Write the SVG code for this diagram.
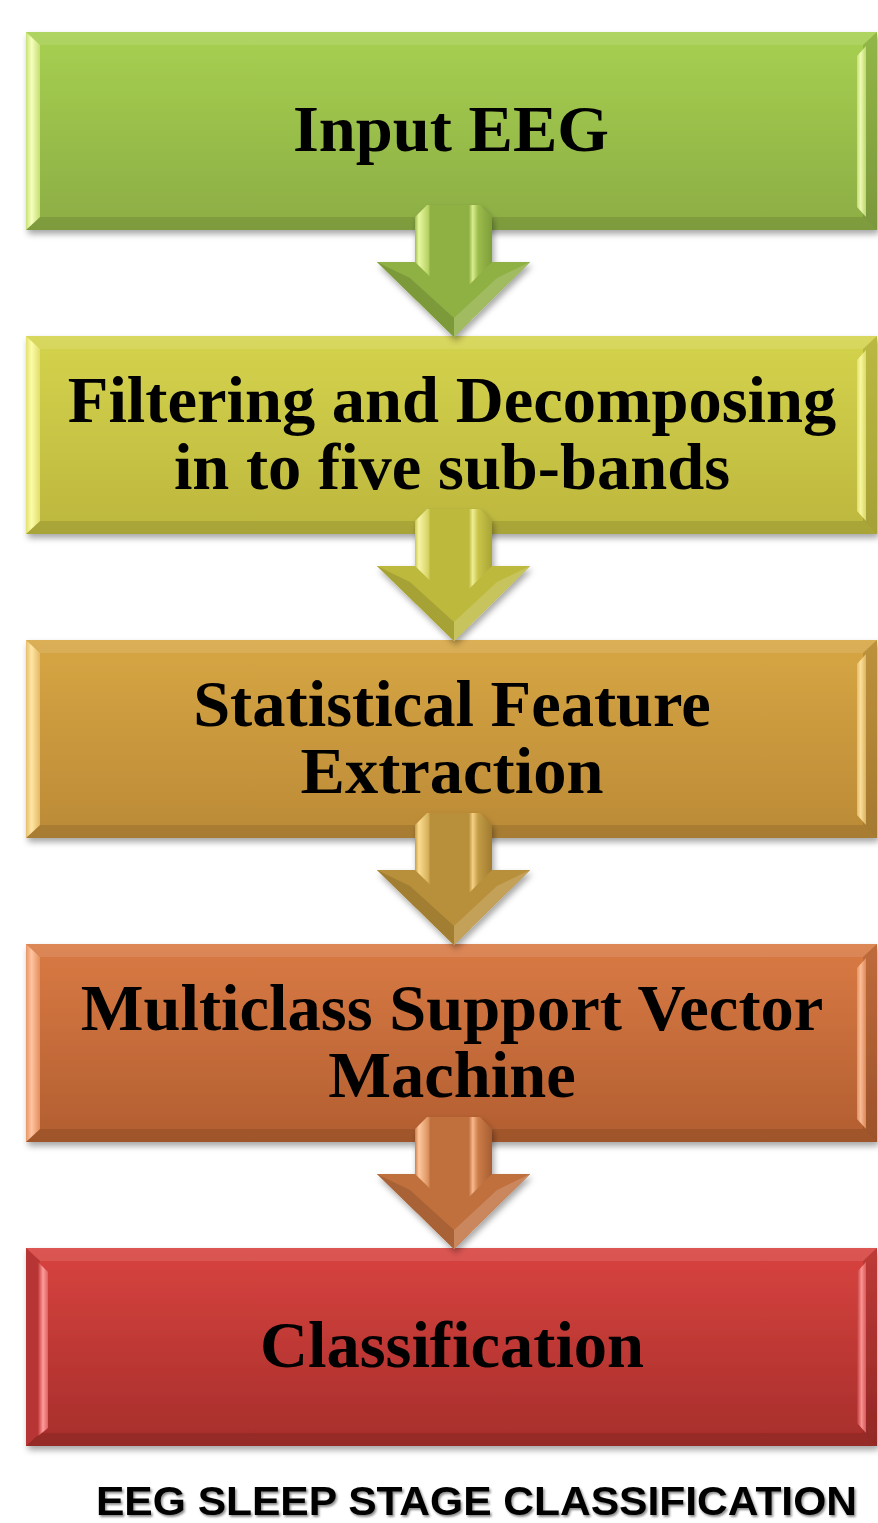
<svg xmlns="http://www.w3.org/2000/svg" width="878" height="1523" viewBox="0 0 878 1523">
<style>
.lbl{font-family:"Liberation Serif","Times New Roman",serif;font-weight:bold;font-size:66.5px;fill:#000;text-anchor:middle}
.title{font-family:"Liberation Sans",Arial,sans-serif;font-weight:bold;font-size:40px;fill:#000}
.topbev{fill:#fff;fill-opacity:0.1}
.botbev{fill:#000;fill-opacity:0.1}
.rbev{fill:#000;fill-opacity:0.12}
.dk{fill:#000;fill-opacity:0.12}
.lt{fill:#fff;fill-opacity:0.16}
</style>
<defs>
<filter id="sh" x="-5%" y="-10%" width="112%" height="125%">
<feDropShadow dx="2" dy="4" stdDeviation="3" flood-color="#000" flood-opacity="0.35"/>
</filter>
<filter id="tsh" x="-5%" y="-20%" width="110%" height="150%">
<feDropShadow dx="1.5" dy="2" stdDeviation="1.2" flood-color="#000" flood-opacity="0.45"/>
</filter>
<linearGradient id="g1" x1="0" y1="0" x2="0" y2="1"><stop offset="0" stop-color="#A7D051"/><stop offset="1" stop-color="#8CAD44"/></linearGradient>
<linearGradient id="g2" x1="0" y1="0" x2="0" y2="1"><stop offset="0" stop-color="#D4D34C"/><stop offset="1" stop-color="#BDB73E"/></linearGradient>
<linearGradient id="g3" x1="0" y1="0" x2="0" y2="1"><stop offset="0" stop-color="#D7A644"/><stop offset="1" stop-color="#BB8A36"/></linearGradient>
<linearGradient id="g4" x1="0" y1="0" x2="0" y2="1"><stop offset="0" stop-color="#D97A44"/><stop offset="1" stop-color="#B25E31"/></linearGradient>
<linearGradient id="g5" x1="0" y1="0" x2="0" y2="1"><stop offset="0" stop-color="#D8433F"/><stop offset="1" stop-color="#A62E2B"/></linearGradient>
<linearGradient id="h1" x1="0" y1="0" x2="1" y2="0"><stop offset="0" stop-color="#C9E27A"/><stop offset="0.4" stop-color="#F6FFBC"/><stop offset="1" stop-color="#C4DE74"/></linearGradient>
<linearGradient id="h2" x1="0" y1="0" x2="1" y2="0"><stop offset="0" stop-color="#E3E270"/><stop offset="0.4" stop-color="#FCFCA8"/><stop offset="1" stop-color="#E0DE6C"/></linearGradient>
<linearGradient id="h3" x1="0" y1="0" x2="1" y2="0"><stop offset="0" stop-color="#E8C070"/><stop offset="0.4" stop-color="#FFE6A4"/><stop offset="1" stop-color="#E4B866"/></linearGradient>
<linearGradient id="h4" x1="0" y1="0" x2="1" y2="0"><stop offset="0" stop-color="#E89868"/><stop offset="0.4" stop-color="#FFC4A0"/><stop offset="1" stop-color="#E48E5E"/></linearGradient>
<linearGradient id="h5" x1="0" y1="0" x2="1" y2="0"><stop offset="0" stop-color="#C03A38"/><stop offset="0.5" stop-color="#FF9C9C"/><stop offset="1" stop-color="#E06060"/></linearGradient>
<linearGradient id="a1" gradientUnits="userSpaceOnUse" x1="415" y1="0" x2="492" y2="0"><stop offset="0" stop-color="#9DBE4E"/><stop offset="0.05" stop-color="#E8F7A0"/><stop offset="0.17" stop-color="#B8D466"/><stop offset="0.2" stop-color="#8FB043"/><stop offset="0.7" stop-color="#8FB043"/><stop offset="0.75" stop-color="#D9EE8E"/><stop offset="0.82" stop-color="#9CBC4C"/><stop offset="1" stop-color="#7E9E3A"/></linearGradient>
<linearGradient id="a2" gradientUnits="userSpaceOnUse" x1="415" y1="0" x2="492" y2="0"><stop offset="0" stop-color="#CCC84C"/><stop offset="0.05" stop-color="#F6F4A6"/><stop offset="0.17" stop-color="#D8D466"/><stop offset="0.2" stop-color="#BDB93E"/><stop offset="0.7" stop-color="#BDB93E"/><stop offset="0.75" stop-color="#F0EE94"/><stop offset="0.82" stop-color="#C8C44A"/><stop offset="1" stop-color="#A9A535"/></linearGradient>
<linearGradient id="a3" gradientUnits="userSpaceOnUse" x1="415" y1="0" x2="492" y2="0"><stop offset="0" stop-color="#C89E48"/><stop offset="0.05" stop-color="#FBDC90"/><stop offset="0.17" stop-color="#D8B25C"/><stop offset="0.2" stop-color="#B8903A"/><stop offset="0.7" stop-color="#B8903A"/><stop offset="0.75" stop-color="#F4D184"/><stop offset="0.82" stop-color="#C49C46"/><stop offset="1" stop-color="#A07B30"/></linearGradient>
<linearGradient id="a4" gradientUnits="userSpaceOnUse" x1="415" y1="0" x2="492" y2="0"><stop offset="0" stop-color="#CE804A"/><stop offset="0.05" stop-color="#FFC8A0"/><stop offset="0.17" stop-color="#DC9460"/><stop offset="0.2" stop-color="#C0703E"/><stop offset="0.7" stop-color="#C0703E"/><stop offset="0.75" stop-color="#F8B88C"/><stop offset="0.82" stop-color="#CC7C48"/><stop offset="1" stop-color="#A65E32"/></linearGradient>
</defs>

<g id="node-input-eeg" filter="url(#sh)">
<rect x="26" y="32" width="851" height="198" fill="url(#g1)"/>
<polygon class="topbev" points="26,32 877,32 863,45 40,45"/>
<polygon class="botbev" points="26,230 877,230 863,217 40,217"/>
<polygon fill="url(#h1)" points="26,32 40,45 40,217 26,230"/>
<polygon class="rbev" points="877,32 863,45 863,217 877,230"/>
<polygon fill="url(#h1)" opacity="0.9" points="857,56 866,46 866,217 857,207"/>
<text class="lbl" x="451" y="151">Input EEG</text>
</g>

<g id="node-filtering" filter="url(#sh)">
<rect x="26" y="336" width="851" height="198" fill="url(#g2)"/>
<polygon class="topbev" points="26,336 877,336 863,349 40,349"/>
<polygon class="botbev" points="26,534 877,534 863,521 40,521"/>
<polygon fill="url(#h2)" points="26,336 40,349 40,521 26,534"/>
<polygon class="rbev" points="877,336 863,349 863,521 877,534"/>
<polygon fill="url(#h2)" opacity="0.9" points="857,360 866,350 866,521 857,511"/>
<text class="lbl" x="452" y="422">Filtering and Decomposing</text>
<text class="lbl" x="452" y="489">in to five sub-bands</text>
</g>

<g id="node-feature-extraction" filter="url(#sh)">
<rect x="26" y="640" width="851" height="198" fill="url(#g3)"/>
<polygon class="topbev" points="26,640 877,640 863,653 40,653"/>
<polygon class="botbev" points="26,838 877,838 863,825 40,825"/>
<polygon fill="url(#h3)" points="26,640 40,653 40,825 26,838"/>
<polygon class="rbev" points="877,640 863,653 863,825 877,838"/>
<polygon fill="url(#h3)" opacity="0.9" points="857,664 866,654 866,825 857,815"/>
<text class="lbl" x="452" y="726">Statistical Feature</text>
<text class="lbl" x="452" y="793">Extraction</text>
</g>

<g id="node-svm" filter="url(#sh)">
<rect x="26" y="944" width="851" height="198" fill="url(#g4)"/>
<polygon class="topbev" points="26,944 877,944 863,957 40,957"/>
<polygon class="botbev" points="26,1142 877,1142 863,1129 40,1129"/>
<polygon fill="url(#h4)" points="26,944 40,957 40,1129 26,1142"/>
<polygon class="rbev" points="877,944 863,957 863,1129 877,1142"/>
<polygon fill="url(#h4)" opacity="0.9" points="857,968 866,958 866,1129 857,1119"/>
<text class="lbl" x="452" y="1030">Multiclass Support Vector</text>
<text class="lbl" x="452" y="1097">Machine</text>
</g>

<g id="node-classification" filter="url(#sh)">
<rect x="26" y="1248" width="851" height="198" fill="url(#g5)"/>
<polygon class="topbev" points="26,1248 877,1248 863,1261 40,1261"/>
<polygon class="botbev" points="26,1446 877,1446 863,1433 40,1433"/>
<polygon fill="#B83634" points="26,1248 40,1261 40,1433 26,1446"/>
<polygon fill="url(#h5)" points="38,1262 48,1272 48,1428 38,1436"/>
<polygon class="rbev" points="877,1248 863,1261 863,1433 877,1446"/>
<polygon fill="url(#h5)" opacity="0.9" points="857,1272 866,1262 866,1433 857,1423"/>
<text class="lbl" x="452" y="1367">Classification</text>
</g>

<g id="connectors">
<g id="arrow-1" filter="url(#sh)">
<polygon fill="url(#a1)" points="427,205 480,205 492,217 492,262 530,262 454,337 377,262 415,262 415,217"/>
<polygon fill="#8FB043" points="377,262 530,262 454,337"/>
<polygon fill="url(#a1)" points="415,262 492,262 454,300"/>
<polygon class="dk" points="377,262 410,278 454,318 454,337"/>
<polygon class="lt" points="530,262 497,278 454,318 454,337"/>
</g>
<g id="arrow-2" filter="url(#sh)" transform="translate(0,304)">
<polygon fill="url(#a2)" points="427,205 480,205 492,217 492,262 530,262 454,337 377,262 415,262 415,217"/>
<polygon fill="#BDB93E" points="377,262 530,262 454,337"/>
<polygon fill="url(#a2)" points="415,262 492,262 454,300"/>
<polygon class="dk" points="377,262 410,278 454,318 454,337"/>
<polygon class="lt" points="530,262 497,278 454,318 454,337"/>
</g>
<g id="arrow-3" filter="url(#sh)" transform="translate(0,608)">
<polygon fill="url(#a3)" points="427,205 480,205 492,217 492,262 530,262 454,337 377,262 415,262 415,217"/>
<polygon fill="#B8903A" points="377,262 530,262 454,337"/>
<polygon fill="url(#a3)" points="415,262 492,262 454,300"/>
<polygon class="dk" points="377,262 410,278 454,318 454,337"/>
<polygon class="lt" points="530,262 497,278 454,318 454,337"/>
</g>
<g id="arrow-4" filter="url(#sh)" transform="translate(0,912)">
<polygon fill="url(#a4)" points="427,205 480,205 492,217 492,262 530,262 454,337 377,262 415,262 415,217"/>
<polygon fill="#C0703E" points="377,262 530,262 454,337"/>
<polygon fill="url(#a4)" points="415,262 492,262 454,300"/>
<polygon class="dk" points="377,262 410,278 454,318 454,337"/>
<polygon class="lt" points="530,262 497,278 454,318 454,337"/>
</g>
</g>

<g id="caption" filter="url(#tsh)">
<text class="title" x="96" y="1515" textLength="761" lengthAdjust="spacingAndGlyphs">EEG SLEEP STAGE CLASSIFICATION</text>
</g>
</svg>
